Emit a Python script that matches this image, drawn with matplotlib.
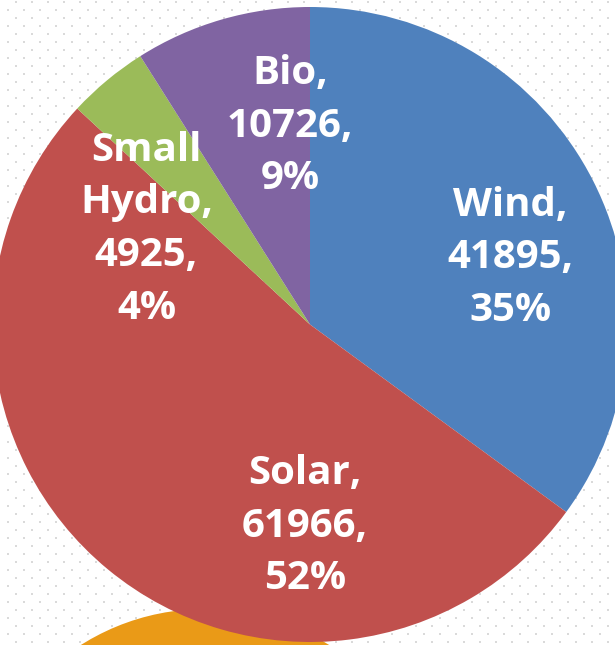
import numpy as np
import matplotlib
matplotlib.use("Agg")
from matplotlib import pyplot as plt
from matplotlib.patches import Circle

# renewable capacity by source
sources = ["Wind", "Solar", "Small\nHydro", "Bio"]
capacity = [41895, 61966, 4925, 10726]
colors = ["#4F81BD", "#C0504D", "#9BBB59", "#8064A2"]

W, H = 615, 645
fig = plt.figure(figsize=(W / 100, H / 100), dpi=100)
ax = fig.add_axes([0, 0, 1, 1])

# dotted slide background
for k, yy in enumerate(np.arange(H - 2, 0, -8)):
  xs = np.arange(16 if k % 2 == 0 else 8, W, 16)
  ax.scatter(xs, np.full(len(xs), yy), s=2.2, marker="s", color="#dadada",
             linewidths=0, zorder=0)

# orange shape from the slide behind the chart
ax.add_patch(Circle((205, H - 841), 232, color="#EA9A17", zorder=1, lw=0))

center = (310, H - 324.5)
radius = 317.5
total = sum(capacity)
wedges, _ = ax.pie(capacity, colors=colors, startangle=90, counterclock=False,
                   center=center, radius=radius, frame=True,
                   wedgeprops=dict(linewidth=0, zorder=2))
ax.set_xlim(0, W)
ax.set_ylim(0, H)
ax.set_aspect("equal")
ax.axis("off")

# label offsets from the pie centre, as fraction of the radius
label_pos = [(0.63, 0.21), (-0.016, -0.635), (-0.515, 0.30), (-0.063, 0.625)]
for name, val, (fx, fy) in zip(sources, capacity, label_pos):
  pct = round(100 * val / total)
  txt = "%s,\n%d,\n%d%%" % (name, val, pct)
  ax.text(center[0] + fx * radius, center[1] + fy * radius, txt,
          ha="center", va="center", color="white", fontsize=29,
          fontweight="bold", family=["Open Sans", "DejaVu Sans"],
          linespacing=1.46, zorder=5)

fig.savefig("out.png", dpi=100)
